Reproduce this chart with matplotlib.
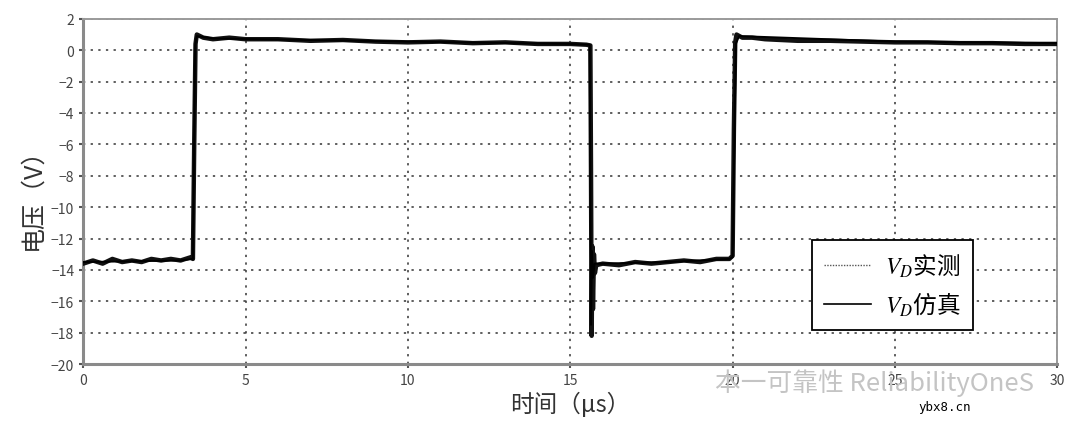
import matplotlib.pyplot as plt
from matplotlib.lines import Line2D

plt.rcParams['font.family'] = ['Noto Sans CJK SC', 'DejaVu Sans']
plt.rcParams['mathtext.fontset'] = 'stix'

t_meas = [0.0, 0.3, 0.6, 0.9, 1.2, 1.5, 1.8, 2.1, 2.4, 2.7, 3.0, 3.3, 3.38,
          3.42, 3.46, 3.5, 3.7, 4.0, 4.5, 5.0, 6.0, 7.0, 8.0, 9.0, 10.0,
          11.0, 12.0, 13.0, 14.0, 15.0, 15.5, 15.62,
          15.64, 15.66, 15.68, 15.7, 15.73, 15.76, 15.8, 16.0, 16.5, 17.0,
          17.5, 18.0, 18.5, 19.0, 19.5, 19.9, 20.0,
          20.04, 20.08, 20.12, 20.3, 20.6, 21.0, 22.0, 23.0, 24.0, 25.0,
          26.0, 27.0, 28.0, 29.0, 30.0]
v_meas = [-13.6, -13.4, -13.6, -13.3, -13.5, -13.4, -13.5, -13.3, -13.4, -13.3, -13.4, -13.2, -13.3,
          -6.0, 0.4, 1.0, 0.8, 0.7, 0.8, 0.7, 0.7, 0.6, 0.65, 0.55, 0.5,
          0.55, 0.45, 0.5, 0.4, 0.4, 0.35, 0.3,
          -8.0, -18.2, -12.5, -16.5, -13.0, -14.2, -13.7, -13.6, -13.7, -13.5,
          -13.6, -13.5, -13.4, -13.5, -13.3, -13.3, -13.1,
          -5.0, 0.5, 1.0, 0.8, 0.8, 0.7, 0.6, 0.6, 0.55, 0.5,
          0.5, 0.45, 0.45, 0.4, 0.4]

# 仿真波形 (µs, V)
t_sim = [0.0, 3.0, 3.38, 3.45, 3.5, 4.0, 10.0, 15.0, 15.6,
         15.64, 15.67, 15.7, 15.75, 16.0, 18.0, 19.9, 20.0, 20.1, 20.2,
         25.0, 30.0]
v_sim = [-13.5, -13.4, -13.3, 0.3, 0.9, 0.75, 0.55, 0.4, 0.35,
         -17.5, -12.8, -14.5, -13.6, -13.6, -13.5, -13.3, -13.2, 0.4, 0.9,
         0.55, 0.45]

x_ticks = [0, 5, 10, 15, 20, 25, 30]
y_ticks = list(range(-20, 3, 2))
labels = ['$V_D$实测', '$V_D$仿真']

fig = plt.figure(figsize=(10.8, 4.31), dpi=100)
ax = fig.add_axes([0.077, 0.153, 0.902, 0.801])

ax.plot(t_meas, v_meas, color='#111111', lw=3.2, zorder=3)
ax.plot(t_sim, v_sim, color='black', lw=1.4, zorder=4)

ax.set_xlim(0, 30)
ax.set_ylim(-20, 2)
ax.set_xticks(x_ticks)
ax.set_yticks(y_ticks)
ax.grid(True, color='#333333', linestyle=(0, (1.5, 3.5)), linewidth=1.1)
ax.tick_params(axis='both', labelsize=10, colors='#555555', length=3, width=1.5,
               labelcolor='#444444')

for side in ['left', 'bottom']:
    ax.spines[side].set_color('#8a8a8a')
    ax.spines[side].set_linewidth(2.2)
for side in ['top', 'right']:
    ax.spines[side].set_color('#9a9a9a')
    ax.spines[side].set_linewidth(1.4)

ax.set_ylabel('电压（V）', fontsize=18, color='#333333', labelpad=4)
ax.set_xlabel('时间（μs）', fontsize=17, color='#333333', labelpad=3)

# 图例：实测用细点线，仿真用实线
handles = [Line2D([], [], color='#555555', lw=1, linestyle=(0, (1, 1))),
           Line2D([], [], color='black', lw=1.2)]
leg = ax.legend(handles, labels, loc='lower right', bbox_to_anchor=(0.913, 0.10),
                borderaxespad=0, fontsize=17, frameon=True, fancybox=False,
                framealpha=1, edgecolor='black', handlelength=2.0,
                handletextpad=0.6, borderpad=0.5, labelspacing=0.45)
leg.get_frame().set_linewidth(1.3)

# 水印
fig.text(0.662, 0.112, '本一可靠性 ReliabilityOneS', fontsize=18.5, color='#c4c4c4',
         ha='left', va='center', zorder=10)
fig.text(0.875, 0.055, 'ybx8.cn', fontsize=9, color='black', family='DejaVu Sans Mono',
         ha='center', va='center')

fig.savefig('out.png', dpi=100)
